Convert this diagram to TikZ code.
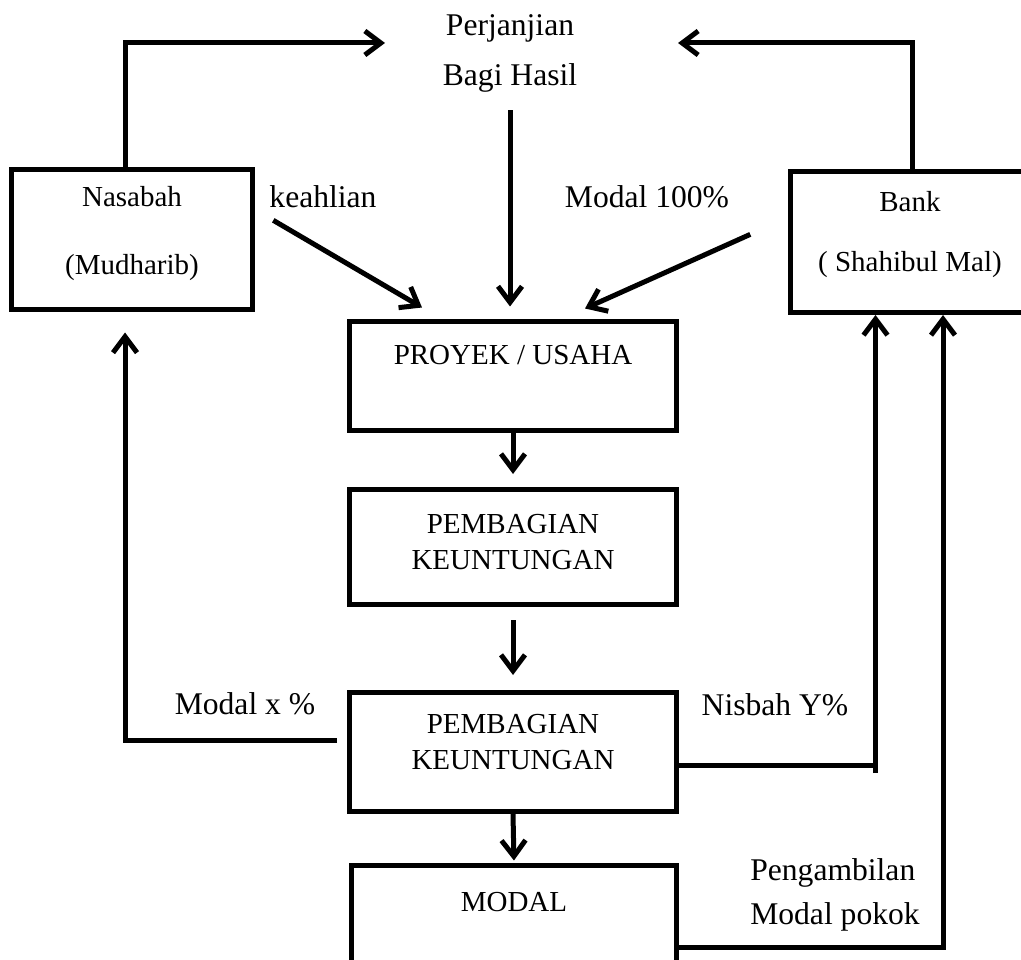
\documentclass[tikz,border=0pt]{standalone}
\usepackage{fontspec}
\setmainfont{Liberation Serif}
\usepackage{tikz}
\usetikzlibrary{arrows.meta}
\newcommand{\boxfont}{\fontsize{29pt}{36pt}\selectfont}
\newcommand{\lblfont}{\fontsize{31.6pt}{40pt}\selectfont}

\begin{document}
\begin{tikzpicture}[x=1pt,y=-1pt,
  box/.style={draw,line width=5pt,font=\boxfont,align=center,inner sep=0pt},
  lbl/.style={font=\lblfont,align=center,inner sep=0pt},
  lnk/.style={line width=5pt},
  arr/.style={lnk,-{Straight Barb[length=16pt,width=24pt]}}]
  \useasboundingbox (0,0) rectangle (1021,960);

  % the two parties and the contract
  \node[box,minimum width=241pt,minimum height=140pt,text height=77pt,text depth=8pt] (nasabah) at (132,240) {Nasabah\\[32pt](Mudharib)};
  \node[box,minimum width=240pt,minimum height=141pt,text height=67pt,text depth=8pt] (bank) at (910,242) {Bank\\[24pt]( Shahibul Mal)};
  \node[lbl] (perjanjian) at (510,53) {Perjanjian\\[10pt]Bagi Hasil};
  \coordinate (perjL) at (385,43);
  \coordinate (perjR) at (678,43);

  % the chain in the middle
  \node[box,minimum width=327pt,minimum height=108pt,text height=20pt,text depth=43pt] (proyek) at (513,376) {PROYEK / USAHA};
  \node[box,minimum width=327pt,minimum height=115pt,text height=53pt,text depth=8pt] (bagi1) at (513,547) {PEMBAGIAN\\KEUNTUNGAN};
  \node[box,minimum width=327pt,minimum height=119pt,text height=43pt,text depth=8pt] (bagi2) at (513,752) {PEMBAGIAN\\KEUNTUNGAN};
  \node[box,minimum width=325pt,minimum height=140pt,text height=20pt,text depth=67pt] (modal) at (514,935) {MODAL};

  % labels on the flows
  \node[lbl] (keahlian) at (323,197) {keahlian};
  \node[lbl] (modal100) at (647,197) {Modal 100\%};
  \node[lbl] (modalx) at (245,704) {Modal x \%};
  \node[lbl] (nisbah) at (775,705) {Nisbah Y\%};
  \node[lbl,align=left] (ambil) at (835,895) {Pengambilan\\[4pt]Modal pokok};

  \draw[arr] ([xshift=-7pt]nasabah.north) |- (perjL);
  \draw[arr] ([xshift=2pt]bank.north) |- (perjR);
  \draw[arr,shorten <=18pt,shorten >=13pt] (perjanjian.south) -- (perjanjian.south |- proyek.north);
  \draw[arr] ([shift={(4pt,-12pt)}]keahlian.south west) -- ([shift={(75pt,12pt)}]proyek.north west);
  \draw[arr] ([shift={(21pt,-26pt)}]modal100.south east) -- ([shift={(72pt,11pt)}]proyek.north);

  \draw[arr,shorten >=13pt] (proyek.south) -- (bagi1.north);
  \draw[arr,shorten <=13pt,shorten >=15pt] (bagi1.south) -- (bagi2.north);
  \draw[arr,shorten >=2pt] (bagi2.south) -- (modal.north);

  % shares going back
  \draw[arr] ([shift={(-10pt,12pt)}]bagi2.west) -| ([shift={(-7pt,-20pt)}]nasabah.south);
  \draw[lnk] ([yshift=-13pt]bagi2.east) -- ++(196.5,0) coordinate (nisbahturn);
  \draw[arr] ([yshift=-8pt]nisbahturn) -- (nisbahturn |- bank.south);
  \draw[arr] ([yshift=-12pt]modal.east) -| ([xshift=33pt]bank.south);
\end{tikzpicture}
\end{document}
